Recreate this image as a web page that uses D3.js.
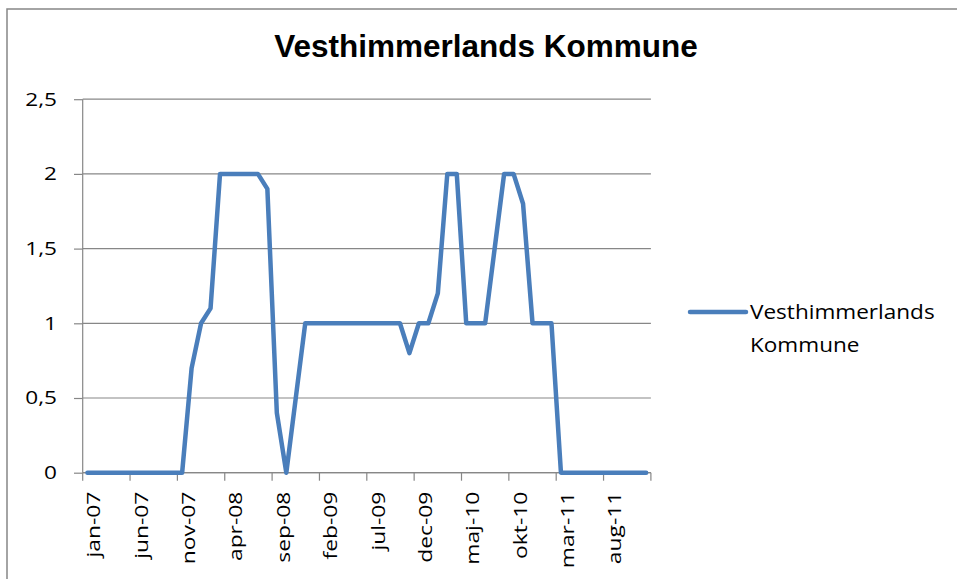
<!DOCTYPE html>
<html>
<head>
<meta charset="utf-8">
<script src="https://cdn.jsdelivr.net/npm/d3@7"></script>
<style>
  body { margin: 0; background: #fff; }
  svg { display: block; }
</style>
</head>
<body>
<svg id="chart" width="957" height="579"></svg>
<script>
// data
var monthNames = ["jan", "feb", "mar", "apr", "maj", "jun", "jul", "aug", "sep", "okt", "nov", "dec"];
var years = ["07", "08", "09", "10", "11"];
var categories = [];
years.forEach(function(y){ monthNames.forEach(function(m){ categories.push(m + "-" + y); }); });
var values = [
  0, 0, 0, 0, 0, 0, 0, 0, 0, 0, 0, 0.7,      // 2007
  1, 1.1, 2, 2, 2, 2, 2, 1.9, 0.4, 0, 0.5, 1, // 2008
  1, 1, 1, 1, 1, 1, 1, 1, 1, 1, 0.8, 1,       // 2009
  1, 1.2, 2, 2, 1, 1, 1, 1.5, 2, 2, 1.8, 1,   // 2010
  1, 1, 0, 0, 0, 0, 0, 0, 0, 0, 0, 0          // 2011
];
var yTicks = [0, 0.5, 1, 1.5, 2, 2.5];
var seriesName = "Vesthimmerlands Kommune";
var title = "Vesthimmerlands Kommune";

// plot area
var plot = { left: 82.7, right: 650.9, top: 99.2, bottom: 472.7 };
var svg = d3.select("#chart");
var gridColor = "#878787";
var lineColor = "#4a7ebb";
var font = "'Open Sans', sans-serif";

// outer border of chart area
svg.append("rect").attr("x", 7).attr("y", 9).attr("width", 1000).attr("height", 1000)
  .attr("fill", "none").attr("stroke", gridColor).attr("stroke-width", 1.5);

// scales
var xScale = d3.scaleBand().domain(categories).range([plot.left, plot.right]).padding(0);
var yScale = d3.scaleLinear().domain([0, 2.5]).range([plot.bottom, plot.top]);
var fmt = d3.formatLocale({ decimal: ",", thousands: ".", grouping: [3], currency: ["", " kr"] }).format("~g");

// gridlines
svg.append("g").selectAll("line").data(yTicks).enter().append("line")
  .attr("x1", plot.left).attr("x2", plot.right)
  .attr("y1", function(d){ return yScale(d); }).attr("y2", function(d){ return yScale(d); })
  .attr("stroke", gridColor).attr("stroke-width", 1.2);

// y axis
var yAxis = d3.axisLeft(yScale).tickValues(yTicks).tickFormat(fmt).tickSize(8.7).tickPadding(17);
var yg = svg.append("g").attr("transform", "translate(" + plot.left + ",0)").call(yAxis);
yg.select(".domain").attr("stroke", gridColor).attr("stroke-width", 1.2).attr("d", "M0," + plot.top + "V" + plot.bottom);
yg.selectAll(".tick line").attr("stroke", gridColor).attr("stroke-width", 1.2);
yg.selectAll(".tick text").attr("font-family", font).attr("font-size", 18.5).attr("fill", "#000");

// x axis line and tick marks every 5 months (on category boundaries)
var xg = svg.append("g");
xg.append("line").attr("x1", plot.left).attr("x2", plot.right).attr("y1", plot.bottom).attr("y2", plot.bottom)
  .attr("stroke", gridColor).attr("stroke-width", 1.2);
var tickCats = categories.filter(function(d, i){ return i % 5 === 0; });
var boundaries = tickCats.map(function(d){ return xScale(d); }).concat([plot.right]);
xg.selectAll(".xtick").data(boundaries).enter().append("line").attr("class", "xtick")
  .attr("x1", function(d){ return d; }).attr("x2", function(d){ return d; })
  .attr("y1", plot.bottom).attr("y2", plot.bottom + 8)
  .attr("stroke", gridColor).attr("stroke-width", 1.2);
xg.selectAll(".xlabel").data(tickCats).enter().append("text").attr("class", "xlabel")
  .attr("transform", function(d){ return "translate(" + (xScale(d) + xScale.bandwidth() / 2 + 13) + "," + (plot.bottom + 19) + ") rotate(-90)"; })
  .attr("text-anchor", "end")
  .attr("font-family", font).attr("font-size", 19).attr("fill", "#000")
  .text(function(d){ return d; });

// the line
var line = d3.line()
  .x(function(d, i){ return xScale(categories[i]) + xScale.bandwidth() / 2; })
  .y(function(d){ return yScale(d); });
svg.append("path").attr("d", line(values)).attr("fill", "none")
  .attr("stroke", lineColor).attr("stroke-width", 4.5)
  .attr("stroke-linejoin", "round").attr("stroke-linecap", "round");

// title
svg.append("text").attr("x", 486).attr("y", 57).attr("text-anchor", "middle")
  .attr("font-family", "'Liberation Sans', Arial, sans-serif").attr("font-weight", "bold")
  .attr("font-size", 31.5).attr("fill", "#000").text(title);

// legend
var lg = svg.append("g").attr("transform", "translate(690,312)");
lg.append("line").attr("x1", 0).attr("x2", 56).attr("y1", 0).attr("y2", 0)
  .attr("stroke", lineColor).attr("stroke-width", 4.5).attr("stroke-linecap", "round");
var words = seriesName.split(" ");
lg.selectAll("text").data(words).enter().append("text")
  .attr("class", "legtext")
  .attr("x", 60).attr("y", function(d, i){ return 6.5 + i * 33; })
  .attr("font-family", font).attr("font-size", 20.5).attr("fill", "#000")
  .text(function(d){ return d; });

// widen the Calibri-like texts a bit
function stretch(sel, k){
  sel.each(function(){
    var len = this.getComputedTextLength();
    d3.select(this).attr("textLength", len * k).attr("lengthAdjust", "spacingAndGlyphs");
  });
}
stretch(yg.selectAll(".tick text"), 1.22);
stretch(xg.selectAll(".xlabel"), 1.2);
stretch(lg.selectAll(".legtext"), 1.1);
</script>
</body>
</html>
